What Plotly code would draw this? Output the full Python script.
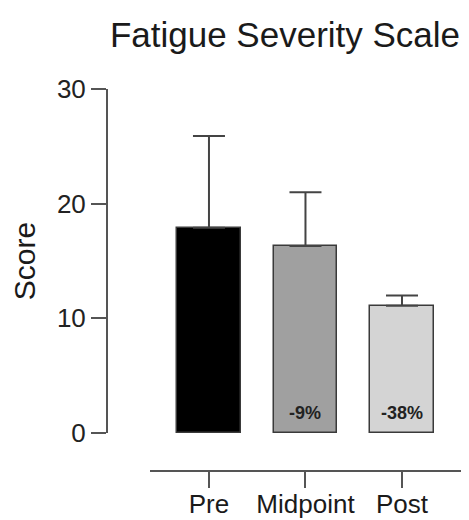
import plotly.graph_objects as go

categories = ["Pre", "Midpoint", "Post"]
means = [17.9, 16.3, 11.1]
sd_upper = [8.0, 4.7, 0.9]
pct_labels = ["", "-9%", "-38%"]
bar_colors = ["#000000", "#a0a0a0", "#d4d4d4"]
y_ticks = [0, 10, 20, 30]

# page body has an 8px margin, so the figure is drawn offset by 8px
OFF = 8
W, H = 469 - OFF, 520 - OFF
L, R, T, B = 107 - OFF, 1, 89 - OFF, 520 - 471
plot_h = H - T - B
y0_px = 433 - OFF
ydom0 = ((H - B) - y0_px) / plot_h
xdom0 = (150 - 107) / (W - L - R)

fig = go.Figure()
fig.add_trace(go.Bar(
    x=list(range(len(categories))), y=means,
    width=0.66,
    marker=dict(color=bar_colors, line=dict(color="#3a3a3a", width=1.5)),
    error_y=dict(type="data", symmetric=False, array=sd_upper,
                 arrayminus=[0] * len(means), color="#444444",
                 thickness=2, width=16),
    showlegend=False,
))

for i, t in enumerate(pct_labels):
    if t:
        fig.add_annotation(x=i, y=0, text="<b>" + t + "</b>", showarrow=False,
                           yanchor="bottom", yshift=8,
                           font=dict(family="Arial, Liberation Sans", size=18, color="#222"))

axis_font = dict(family="Arial, Liberation Sans", size=26, color="#222")
fig.update_layout(
    width=W, height=H,
    margin=dict(l=L, r=R, t=T, b=B, pad=0, autoexpand=False),
    plot_bgcolor="white", paper_bgcolor="white",
    bargap=0,
    title=dict(text="Fatigue Severity Scale", xref="container", yref="container",
               x=(285 - OFF) / W, y=1 - (35 - OFF) / H, xanchor="center", yanchor="middle",
               automargin=False,
               font=dict(family="Arial, Liberation Sans", size=35, color="#1a1a1a")),
    xaxis=dict(
        domain=[xdom0, 1], anchor="free", position=0, automargin=False,
        range=[-0.611, 2.684],
        tickmode="array", tickvals=list(range(len(categories))), ticktext=categories,
        showline=True, linecolor="#555", linewidth=2,
        ticks="outside", ticklen=16, tickwidth=2, tickcolor="#555",
        ticklabelstandoff=-6,
        showgrid=False, zeroline=False,
        tickfont=dict(family="Arial, Liberation Sans", size=26, color="#1a1a1a"),
    ),
    yaxis=dict(
        domain=[ydom0, 1], anchor="free", position=0, automargin=False,
        range=[0, 30],
        tickmode="array", tickvals=y_ticks,
        showline=True, linecolor="#555", linewidth=2,
        ticks="outside", ticklen=15, tickwidth=2, tickcolor="#555",
        showgrid=False, zeroline=False,
        tickfont=axis_font,
        title=dict(text="Score", font=dict(family="Arial, Liberation Sans", size=30, color="#1a1a1a"),
                   standoff=11),
    ),
)

fig.write_html("out.html")
